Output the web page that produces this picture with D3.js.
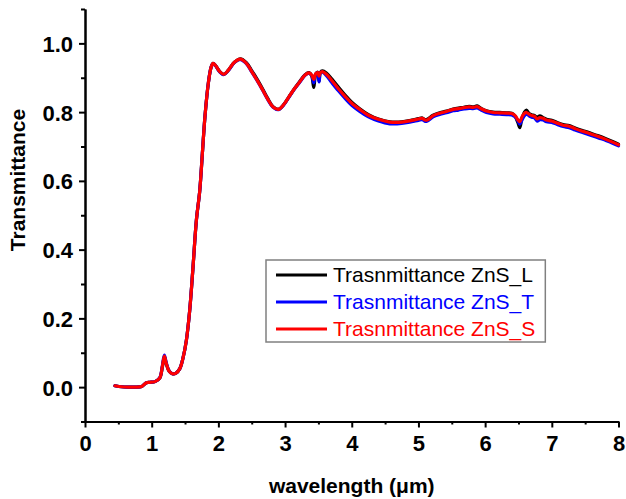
<!DOCTYPE html>
<html>
<head>
<meta charset="utf-8">
<script src="https://cdn.jsdelivr.net/npm/d3@7"></script>
<style>
  html, body { margin: 0; padding: 0; background: #fff; }
  svg { display: block; }
  text { font-family: Arial, "Liberation Sans", sans-serif; }
</style>
</head>
<body>
<svg id="chart" width="626" height="499"></svg>
<script>
// Wavelength grid (µm) shared by the three spectra
const wavelength = [0.45, 0.55, 0.65, 0.75, 0.85, 0.92, 0.97, 1.05, 1.12, 1.16, 1.19, 1.22, 1.26, 1.31, 1.36, 1.42, 1.47, 1.52, 1.57, 1.62, 1.67, 1.72, 1.76, 1.80, 1.85, 1.89, 1.92, 1.96, 2.02, 2.08, 2.15, 2.24, 2.33, 2.42, 2.50, 2.58, 2.66, 2.74, 2.82, 2.90, 2.98, 3.06, 3.14, 3.22, 3.30, 3.36, 3.40, 3.43, 3.46, 3.49, 3.51, 3.53, 3.56, 3.62, 3.70, 3.80, 3.90, 4.00, 4.12, 4.25, 4.40, 4.57, 4.75, 4.90, 5.00, 5.06, 5.10, 5.14, 5.22, 5.32, 5.42, 5.52, 5.60, 5.68, 5.76, 5.82, 5.88, 5.94, 6.02, 6.12, 6.22, 6.32, 6.40, 6.45, 6.49, 6.52, 6.55, 6.59, 6.62, 6.66, 6.70, 6.74, 6.78, 6.82, 6.87, 6.92, 7.00, 7.08, 7.17, 7.26, 7.35, 7.47, 7.58, 7.70, 7.82, 7.92, 8.00];

// Transmittance of the ZnS_L sample
const transL = [0.004, 0.001, 0.000, 0.000, 0.002, 0.013, 0.014, 0.016, 0.026, 0.058, 0.088, 0.067, 0.047, 0.039, 0.040, 0.053, 0.085, 0.136, 0.223, 0.350, 0.485, 0.570, 0.680, 0.790, 0.885, 0.930, 0.942, 0.935, 0.918, 0.910, 0.922, 0.945, 0.955, 0.944, 0.921, 0.896, 0.869, 0.840, 0.816, 0.808, 0.822, 0.845, 0.868, 0.889, 0.909, 0.915, 0.905, 0.872, 0.910, 0.916, 0.890, 0.916, 0.920, 0.914, 0.897, 0.873, 0.850, 0.829, 0.810, 0.793, 0.780, 0.772, 0.772, 0.777, 0.781, 0.783, 0.778, 0.780, 0.791, 0.798, 0.803, 0.809, 0.812, 0.814, 0.817, 0.815, 0.818, 0.811, 0.804, 0.800, 0.799, 0.798, 0.797, 0.788, 0.770, 0.755, 0.780, 0.800, 0.806, 0.796, 0.792, 0.790, 0.785, 0.789, 0.784, 0.779, 0.776, 0.770, 0.764, 0.761, 0.754, 0.746, 0.739, 0.731, 0.722, 0.714, 0.707];

// Transmittance of the ZnS_T sample
const transT = [0.004, 0.001, 0.000, 0.000, 0.002, 0.013, 0.014, 0.016, 0.027, 0.062, 0.093, 0.070, 0.048, 0.039, 0.040, 0.053, 0.085, 0.136, 0.223, 0.350, 0.485, 0.570, 0.680, 0.790, 0.885, 0.930, 0.941, 0.934, 0.917, 0.909, 0.921, 0.944, 0.953, 0.941, 0.917, 0.892, 0.865, 0.837, 0.814, 0.807, 0.821, 0.844, 0.867, 0.887, 0.907, 0.913, 0.906, 0.885, 0.911, 0.914, 0.888, 0.914, 0.916, 0.906, 0.886, 0.862, 0.840, 0.820, 0.802, 0.786, 0.774, 0.766, 0.767, 0.772, 0.776, 0.778, 0.773, 0.775, 0.786, 0.793, 0.798, 0.804, 0.806, 0.809, 0.811, 0.810, 0.812, 0.806, 0.799, 0.795, 0.794, 0.793, 0.792, 0.786, 0.775, 0.765, 0.776, 0.790, 0.794, 0.789, 0.785, 0.783, 0.774, 0.778, 0.777, 0.772, 0.770, 0.764, 0.758, 0.755, 0.748, 0.740, 0.733, 0.725, 0.717, 0.709, 0.702];

// Transmittance of the ZnS_S sample
const transS = [0.004, 0.001, 0.000, 0.000, 0.002, 0.013, 0.014, 0.016, 0.026, 0.060, 0.090, 0.068, 0.047, 0.039, 0.040, 0.053, 0.085, 0.136, 0.223, 0.350, 0.485, 0.570, 0.680, 0.790, 0.885, 0.930, 0.942, 0.935, 0.918, 0.910, 0.922, 0.945, 0.954, 0.942, 0.918, 0.893, 0.866, 0.838, 0.815, 0.808, 0.822, 0.845, 0.868, 0.888, 0.908, 0.914, 0.908, 0.895, 0.912, 0.915, 0.905, 0.915, 0.918, 0.910, 0.892, 0.868, 0.846, 0.826, 0.808, 0.791, 0.779, 0.771, 0.771, 0.776, 0.780, 0.782, 0.777, 0.778, 0.790, 0.797, 0.802, 0.808, 0.810, 0.813, 0.815, 0.814, 0.816, 0.810, 0.803, 0.799, 0.798, 0.797, 0.796, 0.790, 0.778, 0.772, 0.785, 0.797, 0.799, 0.794, 0.790, 0.788, 0.780, 0.784, 0.782, 0.777, 0.774, 0.768, 0.762, 0.759, 0.752, 0.744, 0.737, 0.729, 0.720, 0.712, 0.705];

const seriesNames = ["Trasnmittance ZnS_L", "Trasnmittance ZnS_T", "Trasnmittance ZnS_S"];
const seriesColors = ["#000000", "#0000ff", "#ff0000"];

const xMajorTicks = [0, 1, 2, 3, 4, 5, 6, 7, 8];
const xMinorTicks = [0.5, 1.5, 2.5, 3.5, 4.5, 5.5, 6.5, 7.5];
const yMajorTicks = [0.0, 0.2, 0.4, 0.6, 0.8, 1.0];
const yMinorTicks = [-0.1, 0.1, 0.3, 0.5, 0.7, 0.9, 1.1];

const svg = d3.select("#chart");
const plot = { left: 85, right: 618.5, top: 9, bottom: 421.5 };

const x = d3.scaleLinear().domain([0, 8]).range([plot.left, plot.right]);
const y = d3.scaleLinear().domain([-0.1, 1.1]).range([plot.bottom, plot.top]);

// Spectra: black under blue under red
const seriesValues = [transL, transT, transS];
const line = d3.line()
  .x(d => x(d[0]))
  .y(d => y(d[1]))
  .curve(d3.curveCatmullRom.alpha(0.5));

seriesValues.forEach((vals, i) => {
  svg.append("path")
    .datum(wavelength.map((w, j) => [w, vals[j]]))
    .attr("fill", "none")
    .attr("stroke", seriesColors[i])
    .attr("stroke-width", 3.2)
    .attr("stroke-linejoin", "round")
    .attr("stroke-linecap", "round")
    .attr("d", line);
});

// Axes
const xAxis = d3.axisBottom(x).tickValues(xMajorTicks).tickFormat(d3.format("d")).tickSize(6).tickSizeOuter(0);
const xMinor = d3.axisBottom(x).tickValues(xMinorTicks).tickFormat("").tickSize(3).tickSizeOuter(0);
const yAxis = d3.axisLeft(y).tickValues(yMajorTicks).tickFormat(d3.format(".1f")).tickSize(6).tickSizeOuter(0);
const yMinor = d3.axisLeft(y).tickValues(yMinorTicks).tickFormat("").tickSize(4).tickSizeOuter(0);

function styleAxis(g) {
  g.select(".domain").attr("stroke", "#000").attr("stroke-width", 2);
  g.selectAll(".tick line").attr("stroke", "#000").attr("stroke-width", 2);
  g.selectAll(".tick text")
    .attr("fill", "#000")
    .style("font-size", "22px")
    .style("font-weight", "bold");
}

svg.append("g").attr("transform", `translate(0,${plot.bottom})`).call(xMinor).call(styleAxis);
svg.append("g").attr("transform", `translate(0,${plot.bottom})`).call(xAxis).call(styleAxis)
  .selectAll(".tick text").attr("y", 14).attr("dy", "0.71em");
svg.append("g").attr("transform", `translate(${plot.left},0)`).call(yMinor).call(styleAxis);
svg.append("g").attr("transform", `translate(${plot.left},0)`).call(yAxis).call(styleAxis)
  .selectAll(".tick text").attr("x", -12).attr("dy", "0.36em");

// Axis titles
svg.append("text")
  .attr("x", (plot.left + plot.right) / 2)
  .attr("y", 493)
  .attr("text-anchor", "middle")
  .style("font-size", "21px")
  .style("font-weight", "bold")
  .text("wavelength (\u03bcm)");

svg.append("text")
  .attr("transform", "translate(25,180) rotate(-90)")
  .attr("text-anchor", "middle")
  .style("font-size", "21px")
  .style("font-weight", "bold")
  .text("Transmittance");

// Legend
const legend = svg.append("g").attr("transform", "translate(266,260)");
const legendRows = legend.selectAll("g.row")
  .data(seriesNames)
  .join("g")
  .attr("class", "row")
  .attr("transform", (d, i) => `translate(0,${15 + i * 27})`);

legendRows.append("line")
  .attr("x1", 10).attr("x2", 61)
  .attr("stroke", (d, i) => seriesColors[i])
  .attr("stroke-width", 3);
legendRows.append("text")
  .attr("x", 67)
  .attr("dy", "0.35em")
  .attr("fill", (d, i) => seriesColors[i])
  .style("font-size", "21px")
  .text(d => d);

let textRight = 0;
legendRows.selectAll("text").each(function () {
  const b = this.getBBox();
  textRight = Math.max(textRight, b.x + b.width);
});
legend.insert("rect", ":first-child")
  .attr("x", 0).attr("y", 0)
  .attr("width", textRight + 10).attr("height", 82)
  .attr("fill", "#fff")
  .attr("stroke", "#808080")
  .attr("stroke-width", 1.5);
</script>
</body>
</html>
